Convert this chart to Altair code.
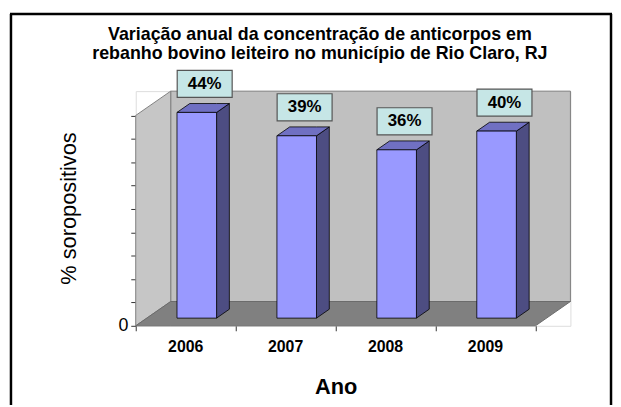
import altair as alt
import pandas as pd

# ---- data ----
years = ["2006", "2007", "2008", "2009"]
values = [0.44, 0.39, 0.36, 0.40]
labels = ["44%", "39%", "36%", "40%"]
y_ticks = [0, 0.05, 0.10, 0.15, 0.20, 0.25, 0.30, 0.35, 0.40, 0.45]
title_lines = ["Variação anual da concentração de anticorpos em",
               "rebanho bovino leiteiro no município de Rio Claro, RJ"]

# ---- 3D geometry (in data units) ----
N = len(years)
YMAX = 0.45
DX, DY = 0.35, 0.052          # depth of the box
BW, BD = 0.396, 0.366          # bar front width, bar depth fraction
bdx, bdy = BD * DX, BD * DY
d0 = (1 - BD) / 2
ox, oy = d0 * DX, d0 * DY

bars = pd.DataFrame({"year": years, "value": values, "label": labels, "i": range(N)})
bars["xl"] = bars["i"] + 0.5 - BW / 2 + ox
bars["xr"] = bars["xl"] + BW
bars["yb"] = oy
bars["yt"] = oy + bars["value"]
bars["xc"] = bars["i"] + 0.5
bars["zero"] = 0.0
bars["bxc"] = bars["i"] + 0.69
bars["bx1"] = bars["bxc"] - 0.275
bars["bx2"] = bars["bxc"] + 0.275
bars["by1"] = bars["yt"] + 0.032
bars["by2"] = bars["by1"] + 0.058
bars["byc"] = (bars["by1"] + bars["by2"]) / 2

side_rows, top_rows = [], []
for _, r in bars.iterrows():
    side_rows += [
        {"year": r.year, "px": r.xr, "lo": r.yb, "hi": r.yt},
        {"year": r.year, "px": r.xr + bdx, "lo": r.yb + bdy, "hi": r.yt + bdy},
    ]
    top_rows += [
        {"year": r.year, "px": r.xl, "lo": r.yt, "hi": r.yt},
        {"year": r.year, "px": r.xl + bdx, "lo": r.yt, "hi": r.yt + bdy},
        {"year": r.year, "px": r.xr, "lo": r.yt, "hi": r.yt + bdy},
        {"year": r.year, "px": r.xr + bdx, "lo": r.yt + bdy, "hi": r.yt + bdy},
    ]
side = pd.DataFrame(side_rows)
top = pd.DataFrame(top_rows)

back = pd.DataFrame({"px": [DX], "px2": [N + DX], "lo": [DY], "hi": [YMAX + DY]})
leftw = pd.DataFrame({"k": ["w", "w"], "px": [0, DX], "lo": [0, DY], "hi": [YMAX, YMAX + DY]})
floor = pd.DataFrame({"k": ["f"] * 4, "px": [0, DX, N, N + DX],
                      "lo": [0, 0, 0, DY], "hi": [0, DY, DY, DY]})

FONT = "Liberation Sans"
xs = alt.Scale(domain=[0, N + DX], nice=False, zero=False)
ys = alt.Scale(domain=[0, YMAX + DY], nice=False, zero=False)

xaxis = alt.Axis(values=list(range(N + 1)), labels=False, domain=False, grid=False,
                 ticks=True, tickSize=5, tickColor="#333333", tickWidth=1,
                 title="Ano", titleFont=FONT, titleFontSize=22, titleFontWeight="bold",
                 titleColor="black", titleX=202, titleY=61, titleBaseline="middle",
                 titleAnchor="start", titleAlign="center")
yaxis = alt.Axis(values=y_ticks, labelExpr="datum.value == 0 ? '0' : ''",
                 domain=False, grid=False, tickSize=5, tickColor="#333333", tickWidth=1,
                 labelFont=FONT, labelFontSize=18, labelColor="black", labelPadding=3,
                 title="% soropositivos", titleFont=FONT, titleFontSize=22,
                 titleFontWeight="normal", titleColor="black",
                 titleX=-68, titleY=118, titleBaseline="middle", titleAngle=270,
                 titleAlign="center")


def X(f):
    return alt.X(f, type="quantitative", scale=xs, axis=xaxis)


def Y(f):
    return alt.Y(f, type="quantitative", scale=ys, axis=yaxis, stack=None)


back_l = alt.Chart(back).mark_rect(fill="#c0c0c0", stroke="#808080", strokeWidth=1).encode(
    x=X("px"), x2="px2", y=Y("lo"), y2="hi")
left_l = alt.Chart(leftw).mark_area(fill="#c6c6c6", stroke="#808080", strokeWidth=1,
                                     opacity=1).encode(
    x=X("px"), y=Y("lo"), y2="hi", detail="k:N")
floor_l = alt.Chart(floor).mark_area(fill="#808080", stroke="#6a6a6a", strokeWidth=1,
                                      opacity=1).encode(
    x=X("px"), y=Y("lo"), y2="hi", detail="k:N")

side_l = alt.Chart(side).mark_area(fill="#4d4d82", stroke="black", strokeWidth=0.8,
                                    opacity=1).encode(
    x=X("px"), y=Y("lo"), y2="hi", detail="year:N")
top_l = alt.Chart(top).mark_area(fill="#7070c2", stroke="black", strokeWidth=0.8,
                                  opacity=1).encode(
    x=X("px"), y=Y("lo"), y2="hi", detail="year:N")
front_l = alt.Chart(bars).mark_rect(fill="#9999ff", stroke="black", strokeWidth=0.8).encode(
    x=X("xl"), x2="xr", y=Y("yb"), y2="yt")

box_l = alt.Chart(bars).mark_rect(fill="#c6e6e6", stroke="#555555", strokeWidth=1.2).encode(
    x=X("bx1"), x2="bx2", y=Y("by1"), y2="by2")
boxtxt_l = alt.Chart(bars).mark_text(font=FONT, fontSize=17, fontWeight="bold",
                                      color="black", baseline="middle").encode(
    x=X("bxc"), y=Y("byc"), text="label:N")
year_l = alt.Chart(bars).mark_text(font=FONT, fontSize=16, fontWeight="bold", color="black",
                                    baseline="middle", dy=21).encode(
    x=X("xc"), y=Y("zero"), text="year:N")

fr = pd.DataFrame({"a": [0]})
title1 = alt.Chart(fr).mark_text(font=FONT, fontSize=18, fontWeight="bold", color="black",
                                  baseline="middle", align="center").encode(
    x=alt.value(186), y=alt.value(-57), text=alt.value(title_lines[0]))
title2 = alt.Chart(fr).mark_text(font=FONT, fontSize=18, fontWeight="bold", color="black",
                                  baseline="middle", align="center").encode(
    x=alt.value(186), y=alt.value(-37), text=alt.value(title_lines[1]))

frame_left = alt.Chart(fr).mark_rule(color="black", strokeWidth=2.5).encode(
    x=alt.value(-126), y=alt.value(-78), y2=alt.value(330))
frame_right = alt.Chart(fr).mark_rule(color="black", strokeWidth=2.5).encode(
    x=alt.value(480), y=alt.value(-78), y2=alt.value(330))
frame_top = alt.Chart(fr).mark_rule(color="black", strokeWidth=2.5).encode(
    x=alt.value(-127), x2=alt.value(481), y=alt.value(-78))

chart = alt.layer(
    back_l, left_l, floor_l, side_l, top_l, front_l, box_l, boxtxt_l, year_l,
    title1, title2, frame_left, frame_right, frame_top
).properties(
    width=439, height=237,
    autosize=alt.AutoSizeParams(type="none"),
    padding={"left": 129, "top": 82, "right": 43, "bottom": 78},
).configure_view(strokeWidth=0).configure(background="white")

chart.save("out.html", embed_options={"renderer": "svg", "actions": False})
